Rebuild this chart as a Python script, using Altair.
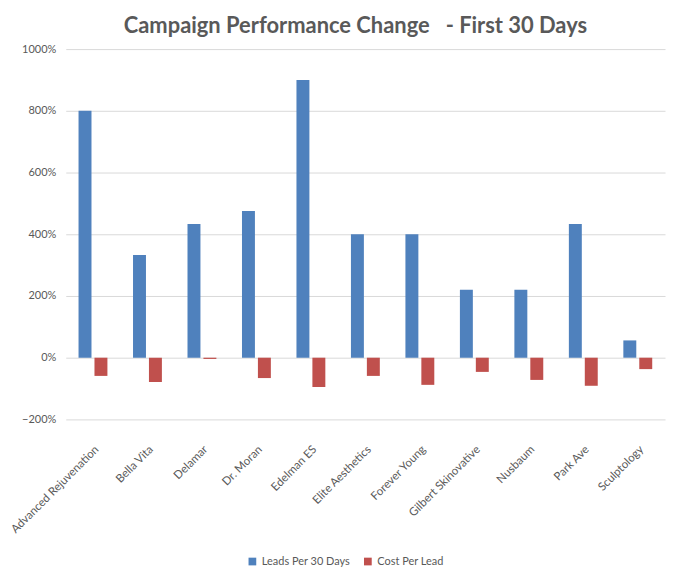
import altair as alt
import pandas as pd

clinics = ["Advanced Rejuvenation", "Bella Vita", "Delamar", "Dr. Moran", "Edelman ES",
           "Elite Aesthetics", "Forever Young", "Gilbert Skinovative", "Nusbaum", "Park Ave",
           "Sculptology"]
leads_change = [8.00, 3.33, 4.33, 4.75, 9.00, 4.00, 4.00, 2.20, 2.20, 4.33, 0.56]
cpl_change = [-0.59, -0.79, -0.04, -0.66, -0.95, -0.59, -0.88, -0.46, -0.72, -0.91, -0.37]
series = ["Leads Per 30 Days", "Cost Per Lead"]
colors = ["#4f81bd", "#c0504d"]

rows = []
for c, a, b in zip(clinics, leads_change, cpl_change):
    rows.append({"clinic": c, "series": series[0], "value": a})
    rows.append({"clinic": c, "series": series[1], "value": b})
df = pd.DataFrame(rows)

FONT = "Lato"
GRAY = "#595959"

chart = alt.Chart(df).mark_bar().encode(
    x=alt.X("clinic:N", sort=clinics, title=None,
            scale=alt.Scale(paddingInner=0.47, paddingOuter=0.235),
            axis=alt.Axis(labelAngle=-45, labelAlign="right", labelBaseline="top",
                          labelFontSize=11.5, labelColor=GRAY, labelFont=FONT,
                          domain=False, ticks=False, labelPadding=24, labelLimit=200,
                          labelOverlap=False)),
    xOffset=alt.XOffset("series:N", sort=series,
                        scale=alt.Scale(paddingInner=0.1875, paddingOuter=0)),
    y=alt.Y("value:Q", title=None,
            scale=alt.Scale(domain=[-2, 10], nice=False, zero=True),
            axis=alt.Axis(values=[-2, 0, 2, 4, 6, 8, 10], format=".0%",
                          labelFontSize=11, labelColor=GRAY, labelFont=FONT,
                          domain=False, ticks=False, labelPadding=10,
                          grid=True, gridColor="#d9d9d9", gridWidth=1)),
    color=alt.Color("series:N", sort=series,
                    scale=alt.Scale(domain=series, range=colors),
                    legend=alt.Legend(title=None, orient="none", direction="horizontal",
                                      legendX=182, legendY=509,
                                      symbolType="square", symbolSize=60,
                                      symbolStrokeWidth=0,
                                      labelFontSize=11, labelColor=GRAY, labelFont=FONT,
                                      columnPadding=12)),
).properties(
    width=602,
    height=372,
    title=alt.TitleParams("Campaign Performance Change \u00a0 - First 30 Days",
                          fontSize=22, font=FONT, fontWeight="bold", color=GRAY,
                          anchor="middle", offset=5, dx=-10),
    padding={"left": 0, "top": 6, "right": 5, "bottom": 5},
).configure_view(stroke=None)

chart.save("out.html", embed_options={"renderer": "svg", "actions": False})
